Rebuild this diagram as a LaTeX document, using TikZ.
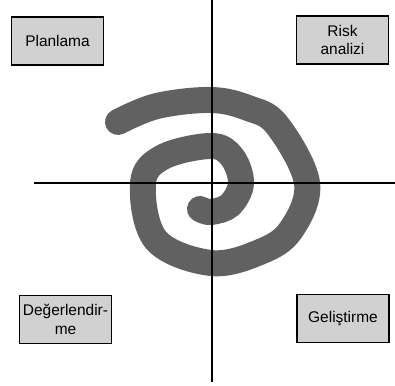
\documentclass[tikz,border=0pt]{standalone}
\usepackage{fontspec}
\setmainfont{Liberation Sans}
\usepackage{xcolor}
\usetikzlibrary{positioning}

\begin{document}
\begin{tikzpicture}[
    phase/.style={draw, line width=0.6pt, fill=black!18, minimum width=1.84cm,
        minimum height=0.96cm, inner sep=0pt, align=center,
        font=\fontsize{8.8}{10.6}\selectfont},
    axis/.style={line width=0.6pt}
]
    \useasboundingbox (-4.24,3.66) rectangle (3.66,-4.06);

    % Spiral
    \draw[line width=0.52cm, line cap=round, black!62]
        plot[smooth, tension=0.6] coordinates {
            (-1.88,1.22) (-1.10,1.54) (-0.02,1.66) (0.72,1.50) (1.30,1.16) (1.90,0)
            (1.58,-0.94) (0.96,-1.38) (-0.02,-1.60) (-1.12,-1.14) (-1.38,0)
            (-0.98,0.52) (-0.02,0.74) (0.40,0.52) (0.58,0) (0.36,-0.44)
            (-0.02,-0.58) (-0.24,-0.52)};

    % Axes
    \coordinate (west) at (-3.56,0);
    \coordinate (east) at (3.66,0);
    \coordinate (north) at (0,3.66);
    \coordinate (south) at (0,-3.98);
    \draw[axis] (west) -- (east);
    \draw[axis] (north) -- (south);

    % Phases
    \node[phase] (plan) at (-3.09,2.84) {Planlama};
    \node[phase] (risk) at (2.61,2.86) {Risk\\analizi};
    \node[phase] (eval) at (-2.93,-2.73) {Değerlendir-\\me};
    \node[phase] (dev) at (2.62,-2.71) {Geliştirme};
\end{tikzpicture}
\end{document}
